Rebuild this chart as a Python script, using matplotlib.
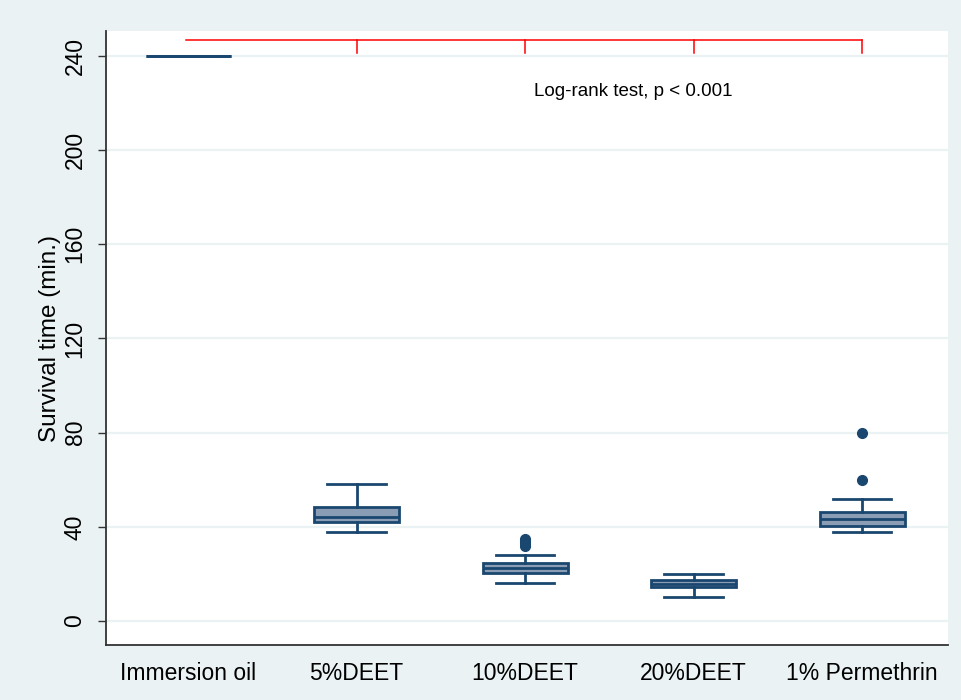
import matplotlib
matplotlib.use("Agg")
import matplotlib.pyplot as plt

plt.rcParams['font.family'] = ['Liberation Sans', 'DejaVu Sans']

# ---- data ----
groups = ["Immersion oil", "5%DEET", "10%DEET", "20%DEET", "1% Permethrin"]
whislo = [240, 38, 16, 10, 38]
q1 = [240, 42, 20.3, 14.4, 40.5]
med = [240, 44, 22.7, 15.7, 43.3]
q3 = [240, 48.4, 24.8, 17.4, 46.3]
whishi = [240, 58, 28, 20, 52]
fliers = [[], [], [32, 33, 34, 35], [], [60, 80]]

yticks = [0, 40, 80, 120, 160, 200, 240]
bracket_y = 246.8
bracket_tick_bottom = 241.3
bracket_ticks = [2, 3, 4, 5]
annot_text = "Log-rank test, p < 0.001"

navy = "#1a476f"
boxfill = "#8a9db5"
bg = "#eaf2f3"

fig = plt.figure(figsize=(9.61, 7.00), dpi=100, facecolor=bg)
ax = fig.add_axes([106/961, 55/700, 842/961, 614/700])
ax.set_facecolor("white")

stats = []
for i, g in enumerate(groups):
    stats.append(dict(label=g, whislo=whislo[i], q1=q1[i], med=med[i],
                      q3=q3[i], whishi=whishi[i], fliers=fliers[i]))

positions = list(range(1, len(groups) + 1))
ax.bxp(stats, positions=positions, widths=0.505, capwidths=0.345,
       patch_artist=True, showfliers=True,
       boxprops=dict(facecolor=boxfill, edgecolor=navy, linewidth=2.0),
       medianprops=dict(color=navy, linewidth=2.0),
       whiskerprops=dict(color=navy, linewidth=2.0),
       capprops=dict(color=navy, linewidth=2.0),
       flierprops=dict(marker='o', markerfacecolor=navy, markeredgecolor=navy,
                       markersize=7))

# grid
ax.set_yticks(yticks)
ax.yaxis.grid(True, color=bg, linewidth=1.6, zorder=0)
ax.set_axisbelow(True)

# red bracket
ax.plot([positions[0] - 0.01, positions[-1]], [bracket_y, bracket_y],
        color="#ff0000", linewidth=1.1, clip_on=False)
for t in bracket_ticks:
    ax.plot([t, t], [bracket_y, bracket_tick_bottom], color="#ff0000",
            linewidth=1.1)

ax.text(3.644, 225, annot_text, ha="center", va="center", fontsize=13.5,
        color="black")

ax.set_xlim(0.513, 5.51)
ax.set_ylim(-10.2, 250.6)

ax.set_xticks(positions)
ax.set_xticklabels(groups, fontsize=16.5)
ax.tick_params(axis='x', length=0, pad=12)
ax.set_yticklabels([str(v) for v in yticks], rotation=90, va="center",
                   fontsize=16.5)
ax.tick_params(axis='y', length=6, width=1.0, color="#333333", pad=8)

ax.set_ylabel("Survival time (min.)", fontsize=17.5, labelpad=2)

for s in ["top", "right"]:
    ax.spines[s].set_visible(False)
for s in ["left", "bottom"]:
    ax.spines[s].set_color("#333333")
    ax.spines[s].set_linewidth(1.3)

fig.savefig("out.png", dpi=100, facecolor=bg)
